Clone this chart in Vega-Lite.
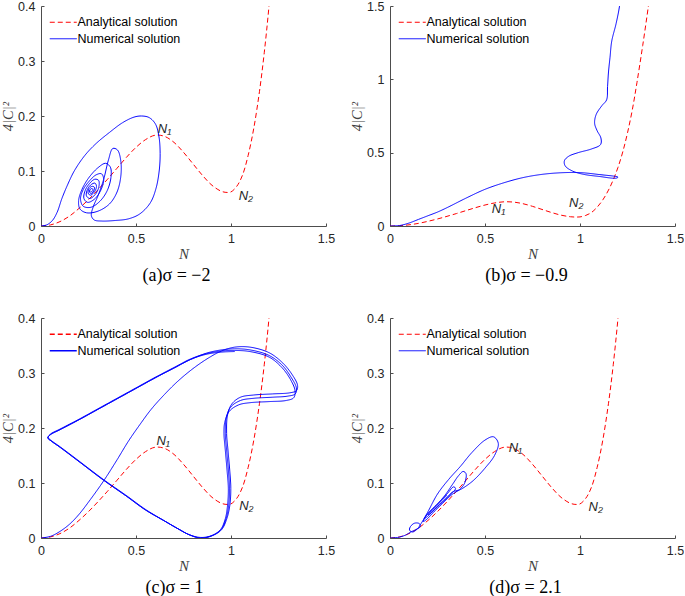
{
"$schema":"https://vega.github.io/schema/vega-lite/v6.json",
"padding":{"left":0,"top":0,"right":0,"bottom":0},
"bounds":"flush",
"columns":2,
"spacing":{"row":92,"column":64},
"resolve":{"scale":{"color":"independent","strokeDash":"independent"}},
"datasets":{
"ana":[
{"series":"Analytical solution","N":0,"v":0},{"series":"Analytical solution","N":0.05,"v":0.002},{"series":"Analytical solution","N":0.1,"v":0.008},{"series":"Analytical solution","N":0.15,"v":0.018},{"series":"Analytical solution","N":0.2,"v":0.032},{"series":"Analytical solution","N":0.25,"v":0.048},{"series":"Analytical solution","N":0.3,"v":0.066},{"series":"Analytical solution","N":0.35,"v":0.085},{"series":"Analytical solution","N":0.4,"v":0.105},{"series":"Analytical solution","N":0.45,"v":0.125},{"series":"Analytical solution","N":0.5,"v":0.143},{"series":"Analytical solution","N":0.55,"v":0.157},{"series":"Analytical solution","N":0.6,"v":0.165},{"series":"Analytical solution","N":0.65,"v":0.163},{"series":"Analytical solution","N":0.7,"v":0.152},{"series":"Analytical solution","N":0.75,"v":0.134},{"series":"Analytical solution","N":0.8,"v":0.113},{"series":"Analytical solution","N":0.85,"v":0.092},{"series":"Analytical solution","N":0.9,"v":0.074},{"series":"Analytical solution","N":0.95,"v":0.063},{"series":"Analytical solution","N":0.98,"v":0.061},{"series":"Analytical solution","N":1.0,"v":0.062},{"series":"Analytical solution","N":1.03,"v":0.072},{"series":"Analytical solution","N":1.06,"v":0.092},{"series":"Analytical solution","N":1.09,"v":0.128},{"series":"Analytical solution","N":1.12,"v":0.178},{"series":"Analytical solution","N":1.15,"v":0.245},{"series":"Analytical solution","N":1.175,"v":0.315},{"series":"Analytical solution","N":1.2,"v":0.4},{"series":"Analytical solution","N":1.225,"v":0.505},{"series":"Analytical solution","N":1.25,"v":0.635},{"series":"Analytical solution","N":1.275,"v":0.79},{"series":"Analytical solution","N":1.3,"v":0.98},{"series":"Analytical solution","N":1.33,"v":1.23},{"series":"Analytical solution","N":1.36,"v":1.5},{"series":"Analytical solution","N":1.375,"v":1.65}
],
"na":[
{"series":"Numerical solution","N":0,"v":0},{"series":"Numerical solution","N":0.03,"v":0.002},{"series":"Numerical solution","N":0.06,"v":0.01},{"series":"Numerical solution","N":0.085,"v":0.025},{"series":"Numerical solution","N":0.11,"v":0.05},{"series":"Numerical solution","N":0.14,"v":0.075},{"series":"Numerical solution","N":0.175,"v":0.1},{"series":"Numerical solution","N":0.23,"v":0.128},{"series":"Numerical solution","N":0.29,"v":0.15},{"series":"Numerical solution","N":0.36,"v":0.17},{"series":"Numerical solution","N":0.43,"v":0.188},{"series":"Numerical solution","N":0.49,"v":0.198},{"series":"Numerical solution","N":0.53,"v":0.2},{"series":"Numerical solution","N":0.57,"v":0.197},{"series":"Numerical solution","N":0.603,"v":0.185},{"series":"Numerical solution","N":0.621,"v":0.162},{"series":"Numerical solution","N":0.627,"v":0.132},{"series":"Numerical solution","N":0.622,"v":0.1},{"series":"Numerical solution","N":0.605,"v":0.068},{"series":"Numerical solution","N":0.575,"v":0.042},{"series":"Numerical solution","N":0.52,"v":0.022},{"series":"Numerical solution","N":0.46,"v":0.013},{"series":"Numerical solution","N":0.39,"v":0.01},{"series":"Numerical solution","N":0.32,"v":0.009},{"series":"Numerical solution","N":0.28,"v":0.011},{"series":"Numerical solution","N":0.265,"v":0.019},{"series":"Numerical solution","N":0.275,"v":0.035},{"series":"Numerical solution","N":0.3,"v":0.055},{"series":"Numerical solution","N":0.33,"v":0.085},{"series":"Numerical solution","N":0.355,"v":0.12},{"series":"Numerical solution","N":0.378,"v":0.141},{"series":"Numerical solution","N":0.403,"v":0.138},{"series":"Numerical solution","N":0.421,"v":0.115},{"series":"Numerical solution","N":0.418,"v":0.085},{"series":"Numerical solution","N":0.398,"v":0.06},{"series":"Numerical solution","N":0.36,"v":0.04},{"series":"Numerical solution","N":0.3,"v":0.027},{"series":"Numerical solution","N":0.24,"v":0.024},{"series":"Numerical solution","N":0.205,"v":0.031},{"series":"Numerical solution","N":0.198,"v":0.046},{"series":"Numerical solution","N":0.215,"v":0.066},{"series":"Numerical solution","N":0.25,"v":0.087},{"series":"Numerical solution","N":0.3,"v":0.106},{"series":"Numerical solution","N":0.34,"v":0.114},{"series":"Numerical solution","N":0.365,"v":0.107},{"series":"Numerical solution","N":0.368,"v":0.088},{"series":"Numerical solution","N":0.348,"v":0.064},{"series":"Numerical solution","N":0.31,"v":0.045},{"series":"Numerical solution","N":0.262,"v":0.034},{"series":"Numerical solution","N":0.222,"v":0.036},{"series":"Numerical solution","N":0.208,"v":0.049},{"series":"Numerical solution","N":0.222,"v":0.066},{"series":"Numerical solution","N":0.255,"v":0.082},{"series":"Numerical solution","N":0.29,"v":0.093},{"series":"Numerical solution","N":0.318,"v":0.095},{"series":"Numerical solution","N":0.33,"v":0.085},{"series":"Numerical solution","N":0.316,"v":0.066},{"series":"Numerical solution","N":0.282,"v":0.049},{"series":"Numerical solution","N":0.245,"v":0.043},{"series":"Numerical solution","N":0.226,"v":0.05},{"series":"Numerical solution","N":0.232,"v":0.064},{"series":"Numerical solution","N":0.255,"v":0.077},{"series":"Numerical solution","N":0.283,"v":0.085},{"series":"Numerical solution","N":0.303,"v":0.083},{"series":"Numerical solution","N":0.305,"v":0.072},{"series":"Numerical solution","N":0.287,"v":0.058},{"series":"Numerical solution","N":0.257,"v":0.05},{"series":"Numerical solution","N":0.239,"v":0.055},{"series":"Numerical solution","N":0.244,"v":0.066},{"series":"Numerical solution","N":0.263,"v":0.075},{"series":"Numerical solution","N":0.284,"v":0.078},{"series":"Numerical solution","N":0.292,"v":0.072},{"series":"Numerical solution","N":0.281,"v":0.062},{"series":"Numerical solution","N":0.26,"v":0.056},{"series":"Numerical solution","N":0.248,"v":0.06},{"series":"Numerical solution","N":0.253,"v":0.068},{"series":"Numerical solution","N":0.268,"v":0.072},{"series":"Numerical solution","N":0.28,"v":0.071},{"series":"Numerical solution","N":0.279,"v":0.065},{"series":"Numerical solution","N":0.265,"v":0.059},{"series":"Numerical solution","N":0.255,"v":0.062},{"series":"Numerical solution","N":0.26,"v":0.067},{"series":"Numerical solution","N":0.27,"v":0.068},{"series":"Numerical solution","N":0.273,"v":0.065},{"series":"Numerical solution","N":0.265,"v":0.062},{"series":"Numerical solution","N":0.262,"v":0.064}
],
"nb":[
{"series":"Numerical solution","N":0,"v":0},{"series":"Numerical solution","N":0.05,"v":0.003},{"series":"Numerical solution","N":0.1,"v":0.02},{"series":"Numerical solution","N":0.15,"v":0.045},{"series":"Numerical solution","N":0.2,"v":0.07},{"series":"Numerical solution","N":0.25,"v":0.095},{"series":"Numerical solution","N":0.3,"v":0.125},{"series":"Numerical solution","N":0.4,"v":0.19},{"series":"Numerical solution","N":0.5,"v":0.25},{"series":"Numerical solution","N":0.6,"v":0.295},{"series":"Numerical solution","N":0.7,"v":0.33},{"series":"Numerical solution","N":0.8,"v":0.352},{"series":"Numerical solution","N":0.9,"v":0.363},{"series":"Numerical solution","N":1.0,"v":0.364},{"series":"Numerical solution","N":1.1,"v":0.351},{"series":"Numerical solution","N":1.2,"v":0.333},{"series":"Numerical solution","N":1.19,"v":0.326},{"series":"Numerical solution","N":1.1,"v":0.338},{"series":"Numerical solution","N":1.02,"v":0.352},{"series":"Numerical solution","N":0.96,"v":0.375},{"series":"Numerical solution","N":0.922,"v":0.41},{"series":"Numerical solution","N":0.918,"v":0.445},{"series":"Numerical solution","N":0.94,"v":0.475},{"series":"Numerical solution","N":0.99,"v":0.5},{"series":"Numerical solution","N":1.06,"v":0.525},{"series":"Numerical solution","N":1.108,"v":0.555},{"series":"Numerical solution","N":1.11,"v":0.6},{"series":"Numerical solution","N":1.09,"v":0.65},{"series":"Numerical solution","N":1.077,"v":0.7},{"series":"Numerical solution","N":1.085,"v":0.76},{"series":"Numerical solution","N":1.115,"v":0.82},{"series":"Numerical solution","N":1.14,"v":0.86},{"series":"Numerical solution","N":1.145,"v":0.95},{"series":"Numerical solution","N":1.15,"v":1.05},{"series":"Numerical solution","N":1.158,"v":1.15},{"series":"Numerical solution","N":1.167,"v":1.26},{"series":"Numerical solution","N":1.19,"v":1.38},{"series":"Numerical solution","N":1.208,"v":1.5},{"series":"Numerical solution","N":1.215,"v":1.6}
],
"nc":[
{"series":"Numerical solution","N":0,"v":0},{"series":"Numerical solution","N":0.05,"v":0.003},{"series":"Numerical solution","N":0.1,"v":0.012},{"series":"Numerical solution","N":0.15,"v":0.025},{"series":"Numerical solution","N":0.2,"v":0.043},{"series":"Numerical solution","N":0.26,"v":0.07},{"series":"Numerical solution","N":0.33,"v":0.104},{"series":"Numerical solution","N":0.4,"v":0.142},{"series":"Numerical solution","N":0.46,"v":0.176},{"series":"Numerical solution","N":0.52,"v":0.206},{"series":"Numerical solution","N":0.58,"v":0.234},{"series":"Numerical solution","N":0.65,"v":0.261},{"series":"Numerical solution","N":0.72,"v":0.285},{"series":"Numerical solution","N":0.8,"v":0.308},{"series":"Numerical solution","N":0.88,"v":0.327},{"series":"Numerical solution","N":0.95,"v":0.34},{"series":"Numerical solution","N":1.02,"v":0.347},
{"series":"Numerical solution","N":1.1,"v":0.347},{"series":"Numerical solution","N":1.2,"v":0.337},{"series":"Numerical solution","N":1.27,"v":0.319},{"series":"Numerical solution","N":1.32,"v":0.298},{"series":"Numerical solution","N":1.35,"v":0.278},{"series":"Numerical solution","N":1.345,"v":0.268},{"series":"Numerical solution","N":1.31,"v":0.264},{"series":"Numerical solution","N":1.22,"v":0.262},{"series":"Numerical solution","N":1.12,"v":0.26},{"series":"Numerical solution","N":1.05,"v":0.256},{"series":"Numerical solution","N":1.005,"v":0.244},{"series":"Numerical solution","N":0.982,"v":0.224},{"series":"Numerical solution","N":0.977,"v":0.19},{"series":"Numerical solution","N":0.984,"v":0.16},{"series":"Numerical solution","N":0.994,"v":0.12},{"series":"Numerical solution","N":0.999,"v":0.09},{"series":"Numerical solution","N":0.994,"v":0.06},{"series":"Numerical solution","N":0.978,"v":0.035},{"series":"Numerical solution","N":0.95,"v":0.015},{"series":"Numerical solution","N":0.9,"v":0.004},{"series":"Numerical solution","N":0.84,"v":0.0},{"series":"Numerical solution","N":0.78,"v":0.006},{"series":"Numerical solution","N":0.72,"v":0.017},{"series":"Numerical solution","N":0.65,"v":0.031},{"series":"Numerical solution","N":0.55,"v":0.051},{"series":"Numerical solution","N":0.45,"v":0.076},{"series":"Numerical solution","N":0.33,"v":0.105},{"series":"Numerical solution","N":0.2,"v":0.139},{"series":"Numerical solution","N":0.1,"v":0.165},{"series":"Numerical solution","N":0.055,"v":0.176},{"series":"Numerical solution","N":0.036,"v":0.182},{"series":"Numerical solution","N":0.05,"v":0.188},{"series":"Numerical solution","N":0.1,"v":0.197},{"series":"Numerical solution","N":0.2,"v":0.215},{"series":"Numerical solution","N":0.3,"v":0.234},{"series":"Numerical solution","N":0.4,"v":0.253},{"series":"Numerical solution","N":0.5,"v":0.272},{"series":"Numerical solution","N":0.6,"v":0.291},{"series":"Numerical solution","N":0.7,"v":0.309},{"series":"Numerical solution","N":0.79,"v":0.325},{"series":"Numerical solution","N":0.87,"v":0.336},{"series":"Numerical solution","N":0.95,"v":0.342},{"series":"Numerical solution","N":1.02,"v":0.344},
{"series":"Numerical solution","N":1.1,"v":0.342},{"series":"Numerical solution","N":1.2,"v":0.332},{"series":"Numerical solution","N":1.27,"v":0.314},{"series":"Numerical solution","N":1.315,"v":0.293},{"series":"Numerical solution","N":1.344,"v":0.273},{"series":"Numerical solution","N":1.338,"v":0.262},{"series":"Numerical solution","N":1.3,"v":0.258},{"series":"Numerical solution","N":1.22,"v":0.256},{"series":"Numerical solution","N":1.12,"v":0.254},{"series":"Numerical solution","N":1.05,"v":0.25},{"series":"Numerical solution","N":0.998,"v":0.238},{"series":"Numerical solution","N":0.975,"v":0.218},{"series":"Numerical solution","N":0.97,"v":0.19},{"series":"Numerical solution","N":0.977,"v":0.16},{"series":"Numerical solution","N":0.987,"v":0.12},{"series":"Numerical solution","N":0.992,"v":0.09},{"series":"Numerical solution","N":0.988,"v":0.06},{"series":"Numerical solution","N":0.974,"v":0.035},{"series":"Numerical solution","N":0.947,"v":0.015},{"series":"Numerical solution","N":0.898,"v":0.004},{"series":"Numerical solution","N":0.84,"v":0.0},{"series":"Numerical solution","N":0.78,"v":0.006},{"series":"Numerical solution","N":0.72,"v":0.017},{"series":"Numerical solution","N":0.65,"v":0.031},{"series":"Numerical solution","N":0.55,"v":0.052},{"series":"Numerical solution","N":0.45,"v":0.077},{"series":"Numerical solution","N":0.33,"v":0.106},{"series":"Numerical solution","N":0.2,"v":0.14},{"series":"Numerical solution","N":0.1,"v":0.166},{"series":"Numerical solution","N":0.055,"v":0.177},{"series":"Numerical solution","N":0.037,"v":0.183},{"series":"Numerical solution","N":0.05,"v":0.189},{"series":"Numerical solution","N":0.1,"v":0.198},{"series":"Numerical solution","N":0.2,"v":0.216},{"series":"Numerical solution","N":0.3,"v":0.235},{"series":"Numerical solution","N":0.4,"v":0.254},{"series":"Numerical solution","N":0.5,"v":0.273},{"series":"Numerical solution","N":0.6,"v":0.292},{"series":"Numerical solution","N":0.7,"v":0.31},{"series":"Numerical solution","N":0.79,"v":0.326},{"series":"Numerical solution","N":0.87,"v":0.335},{"series":"Numerical solution","N":0.95,"v":0.34},{"series":"Numerical solution","N":1.02,"v":0.341},
{"series":"Numerical solution","N":1.1,"v":0.339},{"series":"Numerical solution","N":1.2,"v":0.329},{"series":"Numerical solution","N":1.265,"v":0.311},{"series":"Numerical solution","N":1.31,"v":0.29},{"series":"Numerical solution","N":1.337,"v":0.268},{"series":"Numerical solution","N":1.33,"v":0.255},{"series":"Numerical solution","N":1.29,"v":0.25},{"series":"Numerical solution","N":1.2,"v":0.248},{"series":"Numerical solution","N":1.1,"v":0.246},{"series":"Numerical solution","N":1.04,"v":0.242},{"series":"Numerical solution","N":0.99,"v":0.23},{"series":"Numerical solution","N":0.967,"v":0.21},{"series":"Numerical solution","N":0.963,"v":0.19},{"series":"Numerical solution","N":0.97,"v":0.16},{"series":"Numerical solution","N":0.98,"v":0.12},{"series":"Numerical solution","N":0.986,"v":0.09},{"series":"Numerical solution","N":0.982,"v":0.06},{"series":"Numerical solution","N":0.97,"v":0.035},{"series":"Numerical solution","N":0.944,"v":0.015},{"series":"Numerical solution","N":0.895,"v":0.004},{"series":"Numerical solution","N":0.84,"v":0.001},{"series":"Numerical solution","N":0.78,"v":0.006},{"series":"Numerical solution","N":0.72,"v":0.017},{"series":"Numerical solution","N":0.65,"v":0.031},{"series":"Numerical solution","N":0.55,"v":0.051},{"series":"Numerical solution","N":0.45,"v":0.076},{"series":"Numerical solution","N":0.33,"v":0.105},{"series":"Numerical solution","N":0.2,"v":0.139},{"series":"Numerical solution","N":0.1,"v":0.165},{"series":"Numerical solution","N":0.055,"v":0.176},{"series":"Numerical solution","N":0.036,"v":0.182},{"series":"Numerical solution","N":0.05,"v":0.188},{"series":"Numerical solution","N":0.1,"v":0.197},{"series":"Numerical solution","N":0.2,"v":0.215},{"series":"Numerical solution","N":0.3,"v":0.234},{"series":"Numerical solution","N":0.4,"v":0.253},{"series":"Numerical solution","N":0.5,"v":0.272},{"series":"Numerical solution","N":0.6,"v":0.291},{"series":"Numerical solution","N":0.7,"v":0.309},{"series":"Numerical solution","N":0.79,"v":0.325},{"series":"Numerical solution","N":0.87,"v":0.334},{"series":"Numerical solution","N":0.95,"v":0.338},{"series":"Numerical solution","N":1.02,"v":0.339}
],
"nd":[
{"series":"Numerical solution","N":0,"v":0},{"series":"Numerical solution","N":0.04,"v":0.001},{"series":"Numerical solution","N":0.08,"v":0.005},{"series":"Numerical solution","N":0.11,"v":0.011},{"series":"Numerical solution","N":0.14,"v":0.016},{"series":"Numerical solution","N":0.158,"v":0.02},{"series":"Numerical solution","N":0.155,"v":0.026},{"series":"Numerical solution","N":0.13,"v":0.027},{"series":"Numerical solution","N":0.108,"v":0.021},{"series":"Numerical solution","N":0.103,"v":0.014},{"series":"Numerical solution","N":0.12,"v":0.011},{"series":"Numerical solution","N":0.145,"v":0.017},{"series":"Numerical solution","N":0.165,"v":0.027},{"series":"Numerical solution","N":0.2,"v":0.048},{"series":"Numerical solution","N":0.25,"v":0.08},{"series":"Numerical solution","N":0.31,"v":0.107},{"series":"Numerical solution","N":0.37,"v":0.13},{"series":"Numerical solution","N":0.43,"v":0.155},{"series":"Numerical solution","N":0.5,"v":0.178},{"series":"Numerical solution","N":0.545,"v":0.184},{"series":"Numerical solution","N":0.57,"v":0.172},{"series":"Numerical solution","N":0.55,"v":0.15},{"series":"Numerical solution","N":0.5,"v":0.127},{"series":"Numerical solution","N":0.44,"v":0.105},{"series":"Numerical solution","N":0.39,"v":0.092},{"series":"Numerical solution","N":0.33,"v":0.08},{"series":"Numerical solution","N":0.28,"v":0.064},{"series":"Numerical solution","N":0.23,"v":0.047},{"series":"Numerical solution","N":0.19,"v":0.033},{"series":"Numerical solution","N":0.175,"v":0.03},{"series":"Numerical solution","N":0.19,"v":0.04},{"series":"Numerical solution","N":0.24,"v":0.058},{"series":"Numerical solution","N":0.29,"v":0.078},{"series":"Numerical solution","N":0.33,"v":0.098},{"series":"Numerical solution","N":0.36,"v":0.113},{"series":"Numerical solution","N":0.385,"v":0.121},{"series":"Numerical solution","N":0.4,"v":0.117},{"series":"Numerical solution","N":0.393,"v":0.1},{"series":"Numerical solution","N":0.365,"v":0.088},{"series":"Numerical solution","N":0.33,"v":0.084},{"series":"Numerical solution","N":0.3,"v":0.074},{"series":"Numerical solution","N":0.25,"v":0.057},{"series":"Numerical solution","N":0.2,"v":0.04},{"series":"Numerical solution","N":0.18,"v":0.035},{"series":"Numerical solution","N":0.2,"v":0.045},{"series":"Numerical solution","N":0.25,"v":0.062},{"series":"Numerical solution","N":0.3,"v":0.08},{"series":"Numerical solution","N":0.335,"v":0.093},{"series":"Numerical solution","N":0.345,"v":0.09},{"series":"Numerical solution","N":0.31,"v":0.076},{"series":"Numerical solution","N":0.26,"v":0.06},{"series":"Numerical solution","N":0.21,"v":0.044},{"series":"Numerical solution","N":0.2,"v":0.042},{"series":"Numerical solution","N":0.25,"v":0.06},{"series":"Numerical solution","N":0.3,"v":0.078}
],
"la":[{"N":0.65,"v":0.177,"t":"N₁"},{"N":1.078,"v":0.055,"t":"N₂"}],
"lb":[{"N":0.571,"v":0.116,"t":"N₁"},{"N":0.98,"v":0.158,"t":"N₂"}],
"lc":[{"N":0.643,"v":0.177,"t":"N₁"},{"N":1.081,"v":0.059,"t":"N₂"}],
"ld":[{"N":0.66,"v":0.164,"t":"N₁"},{"N":1.083,"v":0.056,"t":"N₂"}]
},
"concat":[
{"width":285,"height":220,
"title":{"text":"(a)σ = −2","orient":"bottom","dx":-7,"offset":5},
"encoding":{
"x":{"field":"N","type":"quantitative","title":"N","scale":{"domain":[0,1.5],"nice":false,"zero":false},"axis":{"values":[0,0.5,1,1.5],"format":"~g"}},
"y":{"field":"v","type":"quantitative","title":"4|C|²","scale":{"domain":[0,0.4],"nice":false},"axis":{"values":[0,0.1,0.2,0.3,0.4],"format":"~g"}}},
"layer":[
{"data":{"name":"ana"},"mark":{"type":"line","clip":true,"interpolate":"catmull-rom","strokeWidth":1},
"encoding":{"color":{"field":"series","type":"nominal","scale":{"domain":["Analytical solution","Numerical solution"],"range":["#ff0000","#0000ff"]},"legend":{"title":null,"orient":"none","legendX":16,"legendY":10,"symbolType":"M-3,0H3","symbolSize":81,"symbolStrokeWidth":1,"labelOffset":8,"rowPadding":3.5,"padding":0,"labelFont":"Liberation Sans","labelFontSize":12.5,"labelColor":"#000000"}},
"strokeDash":{"field":"series","type":"nominal","scale":{"domain":["Analytical solution","Numerical solution"],"range":[[5,3],[1,0]]},"legend":{"title":null,"orient":"none","legendX":16,"legendY":10,"symbolType":"M-3,0H3","symbolSize":81,"symbolStrokeWidth":1,"labelOffset":8,"rowPadding":3.5,"padding":0,"labelFont":"Liberation Sans","labelFontSize":12.5,"labelColor":"#000000"}},
"order":{"value":null}}},
{"data":{"name":"na"},"mark":{"type":"line","clip":true,"interpolate":"catmull-rom","strokeWidth":1},
"encoding":{"color":{"field":"series","type":"nominal","scale":{"domain":["Analytical solution","Numerical solution"],"range":["#ff0000","#0000ff"]}},
"strokeDash":{"field":"series","type":"nominal","scale":{"domain":["Analytical solution","Numerical solution"],"range":[[5,3],[1,0]]}},
"order":{"value":null}}},
{"data":{"name":"la"},"mark":{"type":"text","font":"Liberation Sans","fontStyle":"italic","fontSize":13,"color":"#262626"},"encoding":{"text":{"field":"t"}}}
]},
{"width":285,"height":220,
"title":{"text":"(b)σ = −0.9","orient":"bottom","dx":-6,"offset":5},
"encoding":{
"x":{"field":"N","type":"quantitative","title":"N","scale":{"domain":[0,1.5],"nice":false,"zero":false},"axis":{"values":[0,0.5,1,1.5],"format":"~g"}},
"y":{"field":"v","type":"quantitative","title":"4|C|²","scale":{"domain":[0,1.5],"nice":false},"axis":{"values":[0,0.5,1,1.5],"format":"~g"}}},
"layer":[
{"data":{"name":"ana"},"mark":{"type":"line","clip":true,"interpolate":"catmull-rom","strokeWidth":1},
"encoding":{"color":{"field":"series","type":"nominal","scale":{"domain":["Analytical solution","Numerical solution"],"range":["#ff0000","#0000ff"]},"legend":{"title":null,"orient":"none","legendX":16,"legendY":10,"symbolType":"M-3,0H3","symbolSize":81,"symbolStrokeWidth":1,"labelOffset":8,"rowPadding":3.5,"padding":0,"labelFont":"Liberation Sans","labelFontSize":12.5,"labelColor":"#000000"}},
"strokeDash":{"field":"series","type":"nominal","scale":{"domain":["Analytical solution","Numerical solution"],"range":[[5,3],[1,0]]},"legend":{"title":null,"orient":"none","legendX":16,"legendY":10,"symbolType":"M-3,0H3","symbolSize":81,"symbolStrokeWidth":1,"labelOffset":8,"rowPadding":3.5,"padding":0,"labelFont":"Liberation Sans","labelFontSize":12.5,"labelColor":"#000000"}},
"order":{"value":null}}},
{"data":{"name":"nb"},"mark":{"type":"line","clip":true,"interpolate":"catmull-rom","strokeWidth":1},
"encoding":{"color":{"field":"series","type":"nominal","scale":{"domain":["Analytical solution","Numerical solution"],"range":["#ff0000","#0000ff"]}},
"strokeDash":{"field":"series","type":"nominal","scale":{"domain":["Analytical solution","Numerical solution"],"range":[[5,3],[1,0]]}},
"order":{"value":null}}},
{"data":{"name":"lb"},"mark":{"type":"text","font":"Liberation Sans","fontStyle":"italic","fontSize":13,"color":"#262626"},"encoding":{"text":{"field":"t"}}}
]},
{"width":285,"height":220,
"title":{"text":"(c)σ = 1","orient":"bottom","dx":-9,"offset":5},
"encoding":{
"x":{"field":"N","type":"quantitative","title":"N","scale":{"domain":[0,1.5],"nice":false,"zero":false},"axis":{"values":[0,0.5,1,1.5],"format":"~g"}},
"y":{"field":"v","type":"quantitative","title":"4|C|²","scale":{"domain":[0,0.4],"nice":false},"axis":{"values":[0,0.1,0.2,0.3,0.4],"format":"~g"}}},
"layer":[
{"data":{"name":"ana"},"mark":{"type":"line","clip":true,"interpolate":"catmull-rom","strokeWidth":1},
"encoding":{"color":{"field":"series","type":"nominal","scale":{"domain":["Analytical solution","Numerical solution"],"range":["#ff0000","#0000ff"]},"legend":{"title":null,"orient":"none","legendX":16,"legendY":10,"symbolType":"M-3,0H3","symbolSize":81,"symbolStrokeWidth":1.6,"labelOffset":8,"rowPadding":3.5,"padding":0,"labelFont":"Liberation Sans","labelFontSize":12.5,"labelColor":"#000000"}},
"strokeDash":{"field":"series","type":"nominal","scale":{"domain":["Analytical solution","Numerical solution"],"range":[[5,3],[1,0]]},"legend":{"title":null,"orient":"none","legendX":16,"legendY":10,"symbolType":"M-3,0H3","symbolSize":81,"symbolStrokeWidth":1.6,"labelOffset":8,"rowPadding":3.5,"padding":0,"labelFont":"Liberation Sans","labelFontSize":12.5,"labelColor":"#000000"}},
"order":{"value":null}}},
{"data":{"name":"nc"},"mark":{"type":"line","clip":true,"interpolate":"catmull-rom","strokeWidth":1},
"encoding":{"color":{"field":"series","type":"nominal","scale":{"domain":["Analytical solution","Numerical solution"],"range":["#ff0000","#0000ff"]}},
"strokeDash":{"field":"series","type":"nominal","scale":{"domain":["Analytical solution","Numerical solution"],"range":[[5,3],[1,0]]}},
"order":{"value":null}}},
{"data":{"name":"lc"},"mark":{"type":"text","font":"Liberation Sans","fontStyle":"italic","fontSize":13,"color":"#262626"},"encoding":{"text":{"field":"t"}}}
]},
{"width":285,"height":220,
"title":{"text":"(d)σ = 2.1","orient":"bottom","dx":-7,"offset":5},
"encoding":{
"x":{"field":"N","type":"quantitative","title":"N","scale":{"domain":[0,1.5],"nice":false,"zero":false},"axis":{"values":[0,0.5,1,1.5],"format":"~g"}},
"y":{"field":"v","type":"quantitative","title":"4|C|²","scale":{"domain":[0,0.4],"nice":false},"axis":{"values":[0,0.1,0.2,0.3,0.4],"format":"~g"}}},
"layer":[
{"data":{"name":"ana"},"mark":{"type":"line","clip":true,"interpolate":"catmull-rom","strokeWidth":1},
"encoding":{"color":{"field":"series","type":"nominal","scale":{"domain":["Analytical solution","Numerical solution"],"range":["#ff0000","#0000ff"]},"legend":{"title":null,"orient":"none","legendX":16,"legendY":10,"symbolType":"M-3,0H3","symbolSize":81,"symbolStrokeWidth":1,"labelOffset":8,"rowPadding":3.5,"padding":0,"labelFont":"Liberation Sans","labelFontSize":12.5,"labelColor":"#000000"}},
"strokeDash":{"field":"series","type":"nominal","scale":{"domain":["Analytical solution","Numerical solution"],"range":[[5,3],[1,0]]},"legend":{"title":null,"orient":"none","legendX":16,"legendY":10,"symbolType":"M-3,0H3","symbolSize":81,"symbolStrokeWidth":1,"labelOffset":8,"rowPadding":3.5,"padding":0,"labelFont":"Liberation Sans","labelFontSize":12.5,"labelColor":"#000000"}},
"order":{"value":null}}},
{"data":{"name":"nd"},"mark":{"type":"line","clip":true,"interpolate":"catmull-rom","strokeWidth":1},
"encoding":{"color":{"field":"series","type":"nominal","scale":{"domain":["Analytical solution","Numerical solution"],"range":["#ff0000","#0000ff"]}},
"strokeDash":{"field":"series","type":"nominal","scale":{"domain":["Analytical solution","Numerical solution"],"range":[[5,3],[1,0]]}},
"order":{"value":null}}},
{"data":{"name":"ld"},"mark":{"type":"text","font":"Liberation Sans","fontStyle":"italic","fontSize":13,"color":"#262626"},"encoding":{"text":{"field":"t"}}}
]}
],
"config":{
"view":{"stroke":null},
"axis":{"grid":false,"domainColor":"#4d4d4d","tickColor":"#4d4d4d","tickSize":-3,"labelFont":"Liberation Sans","labelFontSize":12.5,"labelColor":"#262626","labelPadding":9,"labelFlush":false,"titleFont":"Liberation Serif","titleFontStyle":"italic","titleFontWeight":"normal","titleColor":"#404040"},
"axisX":{"titleFontSize":15,"titlePadding":2},
"axisY":{"titleFontSize":14.5,"titlePadding":2},
"title":{"font":"Liberation Serif","fontSize":18,"fontWeight":"normal","color":"#000000"}
}
}
